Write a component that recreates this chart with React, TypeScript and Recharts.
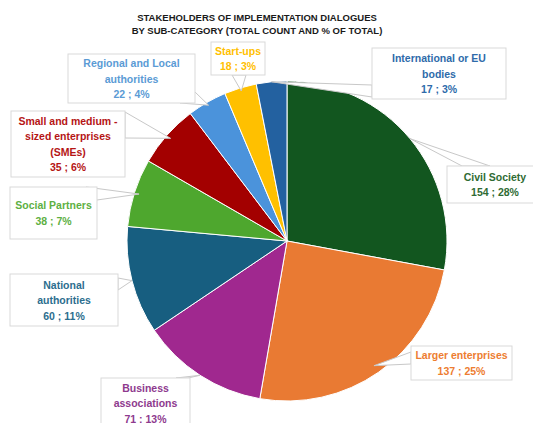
import { PieChart, Pie, Cell } from 'recharts'

document.body.style.margin = '0'

const categories = [
  'Civil Society',
  'Larger enterprises',
  'Business associations',
  'National authorities',
  'Social Partners',
  'Small and medium -sized enterprises (SMEs)',
  'Regional and Local authorities',
  'Start-ups',
  'International or EU bodies',
]
const counts = [154, 137, 71, 60, 38, 35, 22, 18, 17]
const labelLines = [
  ['Civil Society'],
  ['Larger enterprises'],
  ['Business', 'associations'],
  ['National', 'authorities'],
  ['Social Partners'],
  ['Small and medium -', 'sized enterprises', '(SMEs)'],
  ['Regional and Local', 'authorities'],
  ['Start-ups'],
  ['International or EU', 'bodies'],
]
const titleLines = [
  'STAKEHOLDERS OF IMPLEMENTATION DIALOGUES',
  'BY SUB-CATEGORY (TOTAL COUNT AND % OF TOTAL)',
]

const sliceColors = [
  '#12561F', '#E97A33', '#A0288F', '#175E80', '#4EA72E',
  '#A30000', '#4B93DB', '#FFC000', '#2361A0',
]
const textColors = [
  '#2F6B33', '#ED7D31', '#8E3A8E', '#2C6E8E', '#5DB043',
  '#B51515', '#5B9BD5', '#FFC000', '#2E6BAA',
]

// callout boxes (layout only) – box rect, wedge base points, tip radius factor
const callouts = [
  { x: 447, y: 166, w: 96, h: 37, base: [[462, 166], [490, 166]], r: 1.0 },
  { x: 411, y: 346, w: 101, h: 34, base: [[411, 352], [411, 364]], r: 0.95 },
  { x: 101, y: 378, w: 89, h: 50, base: [[176, 378], [188, 378]], r: 1.0 },
  { x: 10, y: 274, w: 108, h: 52, base: [[118, 278], [118, 290]], r: 1.0 },
  { x: 10, y: 187, w: 87, h: 52, base: [[86, 187], [97, 200]], r: 0.97 },
  { x: 11, y: 111, w: 114, h: 66, base: [[125, 112], [125, 138]], r: 0.97 },
  { x: 68, y: 54, w: 127, h: 49, base: [[180, 103], [195, 92]], r: 0.98 },
  { x: 211, y: 42, w: 54, h: 33, base: [[232, 75], [246, 75]], r: 0.98 },
  { x: 372, y: 48, w: 134, h: 51, base: [[372, 85], [372, 97]], r: 1.0 },
]

const total = counts.reduce((a, b) => a + b, 0)
const data = categories.map((name, i) => ({ name, value: counts[i] }))
const RADIAN = Math.PI / 180
const FONT = "'Liberation Sans', Arial, sans-serif"

const renderLabel = (props: any) => {
  const { cx, cy, midAngle, outerRadius, index, value } = props
  const c = callouts[index]
  const tx = cx + outerRadius * c.r * Math.cos(-midAngle * RADIAN)
  const ty = cy + outerRadius * c.r * Math.sin(-midAngle * RADIAN)
  const pct = Math.round((value / total) * 100)
  const lines = [...labelLines[index], `${value} ; ${pct}%`]
  const mx = c.x + c.w / 2
  const my = c.y + c.h / 2
  const pts = `${c.base[0][0]},${c.base[0][1]} ${tx},${ty} ${c.base[1][0]},${c.base[1][1]}`
  return (
    <g key={`callout-${index}`}>
      <polygon points={pts} fill="#ffffff" stroke="#c8c8c8" strokeWidth={1} />
      <rect x={c.x} y={c.y} width={c.w} height={c.h} fill="#ffffff" stroke="#d9d9d9" strokeWidth={1} />
      {lines.map((line, i) => (
        <text
          key={i}
          x={mx}
          y={my + (i - (lines.length - 1) / 2) * 15.5}
          textAnchor="middle"
          dominantBaseline="central"
          fill={textColors[index]}
          fontFamily={FONT}
          fontWeight="bold"
          fontSize={10.5}
        >
          {line}
        </text>
      ))}
    </g>
  )
}

export default function App() {
  return (
    <div style={{ position: 'relative', width: 533, height: 423, background: '#ffffff', overflow: 'hidden' }}>
      <PieChart width={533} height={423} margin={{ top: 0, right: 0, bottom: 0, left: 0 }}>
        <Pie
          data={data}
          dataKey="value"
          nameKey="name"
          cx={287}
          cy={241}
          outerRadius={160}
          startAngle={90}
          endAngle={-270}
          stroke="#ffffff"
          strokeWidth={1}
          label={renderLabel}
          labelLine={false}
          isAnimationActive={false}
        >
          {data.map((_, i) => (
            <Cell key={i} fill={sliceColors[i]} />
          ))}
        </Pie>
      </PieChart>
      <div
        style={{
          position: 'absolute',
          top: 11,
          left: 0,
          width: 514,
          textAlign: 'center',
          fontFamily: FONT,
          fontWeight: 'bold',
          fontSize: 9.5,
          lineHeight: '13px',
          color: '#1a1a1a',
        }}
      >
        {titleLines.map((t, i) => (
          <div key={i}>{t}</div>
        ))}
      </div>
    </div>
  )
}
